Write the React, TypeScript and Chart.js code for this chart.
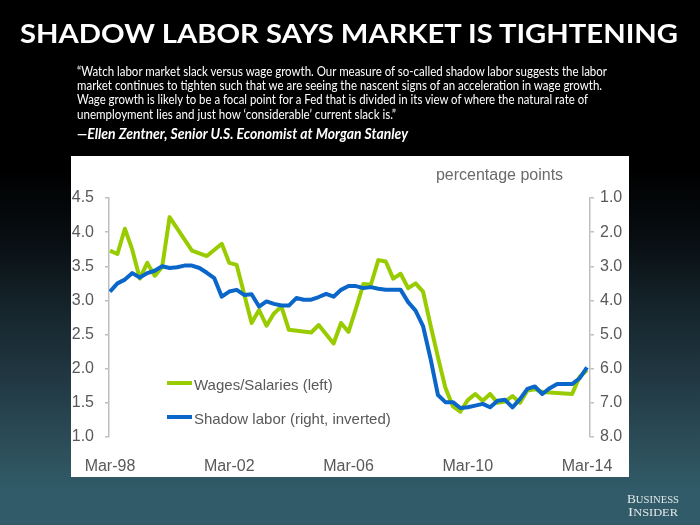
import React, { useEffect, useRef } from "react";
import { Chart, registerables } from "chart.js";

Chart.register(...registerables);

// Quarter index 0 = Mar-98, 64 = Mar-14
const tickQuarters = [0, 16, 32, 48, 64];
const tickLabels = ["Mar-98", "Mar-02", "Mar-06", "Mar-10", "Mar-14"];

const wageQuarters = [
  0, 1, 2, 3, 4, 5, 6, 7, 8, 11, 13, 15, 16, 17, 19, 20, 21, 22, 23, 24, 27, 28,
  30, 31, 32, 33, 34, 35, 36, 37, 38, 39, 40, 41, 42, 43, 44, 45, 46, 47, 48, 49,
  50, 51, 52, 53, 54, 55, 56, 57, 58, 62, 63, 64,
];
const wageValues = [
  3.73, 3.68, 4.05, 3.74, 3.32, 3.55, 3.36, 3.49, 4.22, 3.73, 3.65, 3.83, 3.55, 3.52,
  2.67, 2.86, 2.63, 2.81, 2.91, 2.57, 2.53, 2.64,
  2.37, 2.67, 2.54, 2.88, 3.24, 3.23, 3.59, 3.57, 3.32, 3.39,
  3.18, 3.25, 3.13, 2.64, 2.17, 1.72, 1.45, 1.37, 1.54, 1.63,
  1.53, 1.63, 1.5, 1.52, 1.6, 1.5, 1.68, 1.7, 1.66, 1.63, 1.88, 1.98,
];

const shadowQuarters = [
  0, 1, 2, 3, 4, 5, 6, 7, 8, 9, 10, 11, 12, 13, 14, 15, 16, 17, 18, 19, 20, 21, 22,
  23, 24, 25, 26, 27, 28, 29, 30, 31, 32, 33, 34, 35, 36, 37, 38, 39, 40, 41, 42,
  43, 44, 45, 46, 47, 48, 49, 50, 51, 52, 53, 54, 55, 56, 57, 58, 59, 60, 61, 62,
  63, 64,
];
const shadowValues = [
  3.74, 3.5, 3.39, 3.2, 3.33, 3.2, 3.13, 3.0, 3.05, 3.03,
  2.98, 2.98, 3.05, 3.19, 3.35, 3.89, 3.74, 3.69, 3.84, 3.82,
  4.18, 4.03, 4.1, 4.15, 4.15, 3.93, 3.98, 3.98, 3.9, 3.81,
  3.89, 3.69, 3.58, 3.58, 3.64, 3.61, 3.66, 3.69, 3.69, 3.69,
  4.05, 4.3, 4.75, 5.7, 6.77, 6.98, 6.98, 7.15, 7.13, 7.08,
  7.03, 7.13, 6.94, 6.91, 7.13, 6.89, 6.59, 6.52, 6.74, 6.57,
  6.45, 6.45, 6.45, 6.28, 5.96,
];

const seriesLabels = ["Wages/Salaries (left)", "Shadow labor (right, inverted)"];
const unitLabel = "percentage points";

const GREEN = "#99cc00";
const BLUE = "#0a66c8";
const TEXT = "#595959";
const AXIS = "#bfbfbf";
const FONT = "'Liberation Sans', Arial, sans-serif";

const overlayPlugin = {
  id: "overlayText",
  afterDraw(chart: any) {
    const ctx = chart.ctx;
    ctx.save();
    // unit label
    ctx.font = `16px ${FONT}`;
    ctx.fillStyle = "#6a6a6a";
    ctx.textAlign = "center";
    ctx.textBaseline = "alphabetic";
    ctx.fillText(unitLabel, 428.5, 24);
    // legend
    const rows = [227, 261];
    chart.data.datasets.forEach((ds: any, i: number) => {
      const y = rows[i];
      ctx.strokeStyle = ds.borderColor;
      ctx.lineWidth = 4;
      ctx.lineCap = "butt";
      ctx.beginPath();
      ctx.moveTo(96, y);
      ctx.lineTo(121, y);
      ctx.stroke();
      ctx.font = `15px ${FONT}`;
      ctx.fillStyle = TEXT;
      ctx.textAlign = "left";
      ctx.textBaseline = "middle";
      ctx.fillText(ds.label, 123, y + 3);
    });
    ctx.restore();
  },
};

export default function App() {
  const ref = useRef<HTMLCanvasElement>(null);

  useEffect(() => {
    if (!ref.current) return;
    const chart = new Chart(ref.current, {
      type: "line",
      data: {
        datasets: [
          {
            label: seriesLabels[0],
            data: wageQuarters.map((q, i) => ({ x: q, y: wageValues[i] })),
            borderColor: GREEN,
            backgroundColor: GREEN,
            borderWidth: 4,
            pointRadius: 0,
            tension: 0,
            borderJoinStyle: "round",
            yAxisID: "y",
            order: 2,
          },
          {
            label: seriesLabels[1],
            data: shadowQuarters.map((q, i) => ({ x: q, y: shadowValues[i] })),
            borderColor: BLUE,
            backgroundColor: BLUE,
            borderWidth: 4,
            pointRadius: 0,
            tension: 0,
            borderJoinStyle: "round",
            yAxisID: "y2",
            order: 1,
          },
        ],
      },
      options: {
        animation: false,
        responsive: false,
        maintainAspectRatio: false,
        devicePixelRatio: 1,
        layout: { padding: { top: 42, left: 0, right: 0, bottom: 0 } },
        plugins: {
          legend: { display: false },
          tooltip: { enabled: false },
          title: { display: false },
        },
        scales: {
          x: {
            type: "linear",
            min: -0.13,
            max: 64.4,
            grid: { display: false },
            border: { display: false },
            afterBuildTicks: (axis: any) => {
              axis.ticks = tickQuarters.map((v) => ({ value: v }));
            },
            afterFit: (axis: any) => {
              axis.height = 40;
            },
            ticks: {
              autoSkip: false,
              maxRotation: 0,
              padding: 12,
              color: TEXT,
              font: { family: FONT, size: 16 },
              callback: (v: any) => {
                const i = tickQuarters.indexOf(Number(v));
                return i >= 0 ? tickLabels[i] : "";
              },
            },
          },
          y: {
            type: "linear",
            position: "left",
            min: 1,
            max: 4.5,
            afterFit: (axis: any) => {
              axis.width = 38;
            },
            grid: {
              drawOnChartArea: false,
              drawTicks: true,
              tickLength: 4,
              color: AXIS,
              lineWidth: 1.5,
            },
            border: { display: true, color: AXIS, width: 1.5 },
            ticks: {
              stepSize: 0.5,
              padding: 11,
              color: TEXT,
              font: { family: FONT, size: 16 },
              callback: (v: any) => Number(v).toFixed(1),
            },
          },
          y2: {
            type: "linear",
            position: "right",
            min: 1,
            max: 8,
            reverse: true,
            afterFit: (axis: any) => {
              axis.width = 39;
            },
            grid: {
              drawOnChartArea: false,
              drawTicks: true,
              tickLength: 4,
              color: AXIS,
              lineWidth: 1.5,
            },
            border: { display: true, color: AXIS, width: 1.5 },
            ticks: {
              stepSize: 1,
              padding: 6,
              color: TEXT,
              font: { family: FONT, size: 16 },
              callback: (v: any) => Number(v).toFixed(1),
            },
          },
        },
      },
      plugins: [overlayPlugin],
    } as any);
    return () => chart.destroy();
  }, []);

  return (
    <div
      style={{
        position: "absolute",
        left: 0,
        top: 0,
        width: 700,
        height: 525,
        overflow: "hidden",
        background:
          "linear-gradient(180deg, #000 0px, #000 170px, #080e12 240px, #15242b 307px, #203640 373px, #2b4c57 440px, #315b68 490px, #315b68 525px)",
      }}
    >
      <div
        style={{
          position: "absolute",
          left: 71,
          top: 156,
          width: 558,
          height: 321,
          background: "#ffffff",
        }}
      >
        <canvas ref={ref} width={558} height={321} style={{ display: "block", width: 558, height: 321 }} />
      </div>
      <svg
        width={700}
        height={525}
        style={{ position: "absolute", left: 0, top: 0, pointerEvents: "none" }}
      >
        <text
          x={20}
          y={43}
          textLength={658}
          lengthAdjust="spacingAndGlyphs"
          fontFamily="Lato, 'Open Sans', sans-serif"
          fontWeight={700}
          fontSize={26}
          fill="#ffffff"
        >
          SHADOW LABOR SAYS MARKET IS TIGHTENING
        </text>
        <g fontFamily="Lato, 'Open Sans', sans-serif" fontSize={13.8} fill="#ffffff">
          <text x={77} y={76} textLength={530} lengthAdjust="spacingAndGlyphs">
            “Watch labor market slack versus wage growth. Our measure of so-called shadow labor suggests the labor
          </text>
          <text x={77} y={90} textLength={525} lengthAdjust="spacingAndGlyphs">
            market continues to tighten such that we are seeing the nascent signs of an acceleration in wage growth.
          </text>
          <text x={77} y={104.3} textLength={511} lengthAdjust="spacingAndGlyphs">
            Wage growth is likely to be a focal point for a Fed that is divided in its view of where the natural rate of
          </text>
          <text x={77} y={118.5} textLength={319} lengthAdjust="spacingAndGlyphs">
            unemployment lies and just how ‘considerable’ current slack is.”
          </text>
          <text
            x={77}
            y={139}
            textLength={331}
            lengthAdjust="spacingAndGlyphs"
            fontSize={14.5}
            fontWeight={700}
            fontStyle="italic"
          >
            —Ellen Zentner, Senior U.S. Economist at Morgan Stanley
          </text>
        </g>
        <g fontFamily="'Liberation Serif', 'DejaVu Serif', serif" fill="#e3e8ea">
          <text x={627} y={503} textLength={52} lengthAdjust="spacingAndGlyphs">
            <tspan fontSize={12.5}>B</tspan>
            <tspan fontSize={10}>USINESS</tspan>
          </text>
          <text x={628} y={515.5} textLength={50} lengthAdjust="spacingAndGlyphs">
            <tspan fontSize={12.5}>I</tspan>
            <tspan fontSize={10}>NSIDER</tspan>
          </text>
        </g>
      </svg>
    </div>
  );
}
